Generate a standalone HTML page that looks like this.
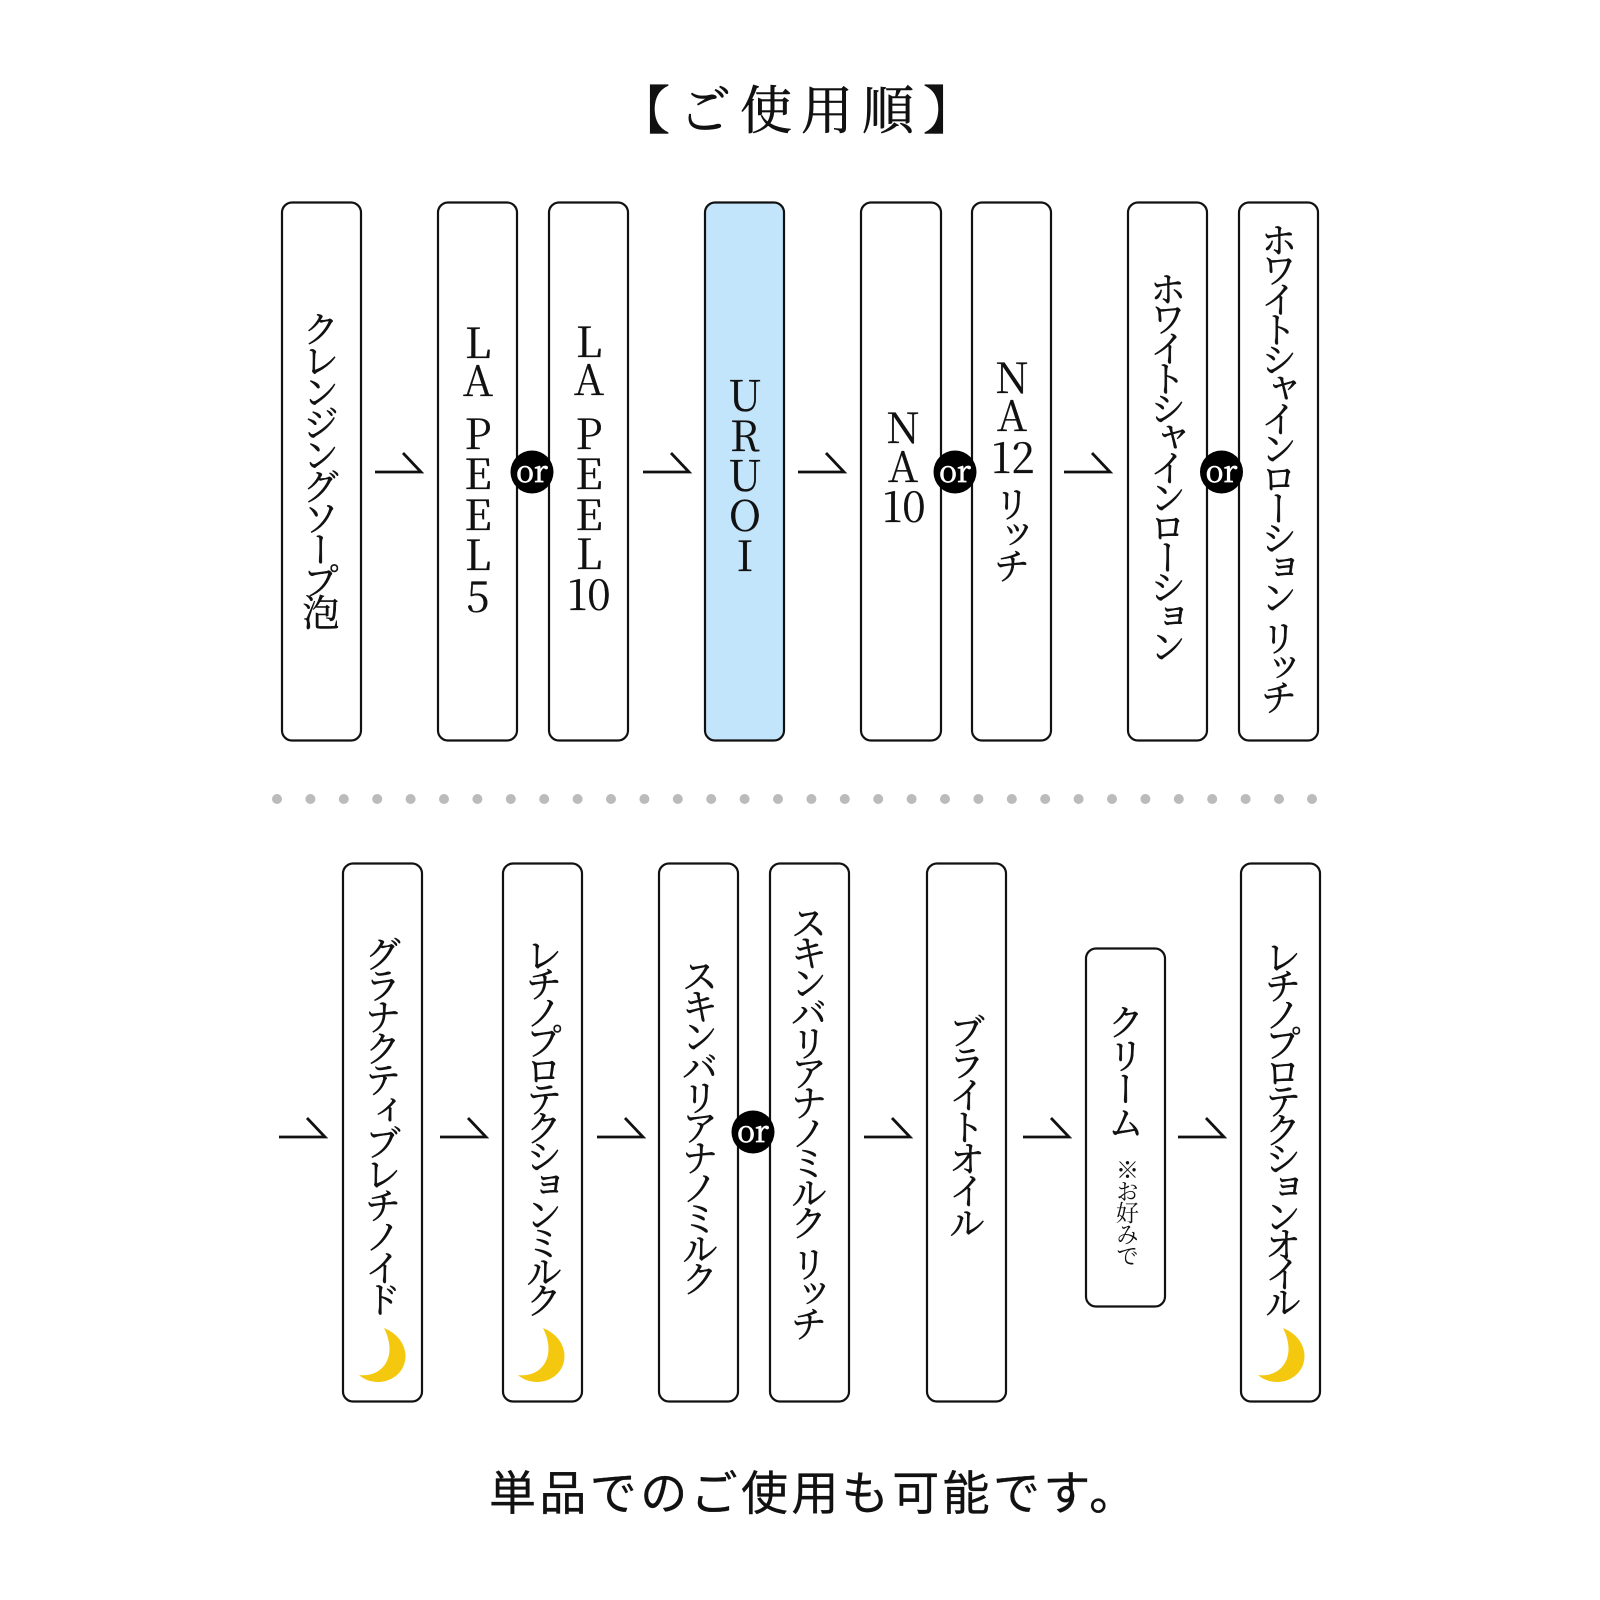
<!DOCTYPE html>
<html lang="ja"><head><meta charset="utf-8"><style>
html,body{margin:0;padding:0;background:#fff}
#p{position:relative;width:1600px;height:1600px;overflow:hidden;background:#fff;color:#111;font-family:"Liberation Serif","Noto Serif CJK JP","Noto Serif CJK SC",serif}
#p *{font-family:"Noto Serif CJK JP","Noto Serif CJK SC",serif}
svg{position:absolute;left:0;top:0}
.v{position:absolute;writing-mode:vertical-rl;width:50px;margin-left:-25px;line-height:50px;white-space:nowrap;font-size:37px;font-weight:400;-webkit-text-stroke:.45px #111}
.c{position:absolute;width:90px;margin-left:-45px;height:50px;line-height:50px;margin-top:-25px;text-align:center;font-size:42px;font-weight:400;-webkit-text-stroke:.3px #111}
.o{position:absolute;width:42px;margin-left:-21px;height:42px;margin-top:-21px;line-height:36px;text-align:center;font-size:30px;color:#fff;font-weight:400;-webkit-text-stroke:.7px #fff}
.g{margin-inline-start:11px}
</style></head><body><div id="p">
<svg width="1600" height="1600" viewBox="0 0 1600 1600" fill="none">
<g stroke="#111" stroke-width="2.200">
<rect x="282" y="202.500" width="79" height="538" rx="10" fill="#fff"/>
<rect x="438" y="202.500" width="79" height="538" rx="10" fill="#fff"/>
<rect x="549" y="202.500" width="79" height="538" rx="10" fill="#fff"/>
<rect x="705" y="202.500" width="79" height="538" rx="10" fill="#c3e5fb"/>
<rect x="861" y="202.500" width="80" height="538" rx="10" fill="#fff"/>
<rect x="972" y="202.500" width="79" height="538" rx="10" fill="#fff"/>
<rect x="1128" y="202.500" width="79" height="538" rx="10" fill="#fff"/>
<rect x="1239" y="202.500" width="79" height="538" rx="10" fill="#fff"/>
<rect x="343" y="863.500" width="79" height="538" rx="10" fill="#fff"/>
<rect x="503" y="863.500" width="79" height="538" rx="10" fill="#fff"/>
<rect x="659" y="863.500" width="79" height="538" rx="10" fill="#fff"/>
<rect x="770" y="863.500" width="79" height="538" rx="10" fill="#fff"/>
<rect x="927" y="863.500" width="79" height="538" rx="10" fill="#fff"/>
<rect x="1086" y="948.500" width="79" height="358" rx="10" fill="#fff"/>
<rect x="1241" y="863.500" width="79" height="538" rx="10" fill="#fff"/>
</g>
<g stroke="#111" stroke-width="2.800" stroke-linejoin="miter">
<path d="M375 472H421L403 453"/><path d="M643 472H689L671 453"/><path d="M798 472H844L826 453"/><path d="M1064 472H1110L1092 453"/>
<path d="M279 1137H325L307 1118"/><path d="M440 1137H486L468 1118"/><path d="M597 1137H643L625 1118"/><path d="M864 1137H910L892 1118"/><path d="M1023 1137H1069L1051 1118"/><path d="M1178 1137H1224L1206 1118"/>
</g>
<g fill="#000"><circle cx="532" cy="472" r="21.500"/><circle cx="955" cy="472" r="21.500"/><circle cx="1221.500" cy="472" r="21.500"/><circle cx="753" cy="1132" r="21.500"/></g>
<g fill="#bbb">
<circle cx="277" cy="799" r="5"/><circle cx="310.400" cy="799" r="5"/><circle cx="343.800" cy="799" r="5"/><circle cx="377.200" cy="799" r="5"/><circle cx="410.600" cy="799" r="5"/><circle cx="444" cy="799" r="5"/><circle cx="477.400" cy="799" r="5"/><circle cx="510.800" cy="799" r="5"/><circle cx="544.200" cy="799" r="5"/><circle cx="577.600" cy="799" r="5"/><circle cx="611" cy="799" r="5"/><circle cx="644.400" cy="799" r="5"/><circle cx="677.800" cy="799" r="5"/><circle cx="711.200" cy="799" r="5"/><circle cx="744.600" cy="799" r="5"/><circle cx="778" cy="799" r="5"/><circle cx="811.400" cy="799" r="5"/><circle cx="844.800" cy="799" r="5"/><circle cx="878.200" cy="799" r="5"/><circle cx="911.600" cy="799" r="5"/><circle cx="945" cy="799" r="5"/><circle cx="978.400" cy="799" r="5"/><circle cx="1011.800" cy="799" r="5"/><circle cx="1045.200" cy="799" r="5"/><circle cx="1078.600" cy="799" r="5"/><circle cx="1112" cy="799" r="5"/><circle cx="1145.400" cy="799" r="5"/><circle cx="1178.800" cy="799" r="5"/><circle cx="1212.200" cy="799" r="5"/><circle cx="1245.600" cy="799" r="5"/><circle cx="1279" cy="799" r="5"/><circle cx="1312" cy="799" r="5"/>
</g>
<g fill="#f4c80f">
<path d="M1283 1328C1298 1334 1304.500 1346 1304.500 1356C1304.500 1372 1291 1382 1277 1382C1270 1382 1263 1379.500 1258 1375C1280 1378 1298 1358 1283 1328Z"/>
<path transform="translate(-899 0)" d="M1283 1328C1298 1334 1304.500 1346 1304.500 1356C1304.500 1372 1291 1382 1277 1382C1270 1382 1263 1379.500 1258 1375C1280 1378 1298 1358 1283 1328Z"/>
<path transform="translate(-740 0)" d="M1283 1328C1298 1334 1304.500 1346 1304.500 1356C1304.500 1372 1291 1382 1277 1382C1270 1382 1263 1379.500 1258 1375C1280 1378 1298 1358 1283 1328Z"/>
</g>
</svg>

<div style="position:absolute;left:618px;top:71px;font-size:52px;line-height:72px;letter-spacing:9px;white-space:nowrap;font-weight:400;-webkit-text-stroke:.6px #111">【ご使用順】</div>

<div class="v" style="left:321px;top:310px;letter-spacing:-5.500px">クレンジングソープ泡</div>

<span class="c" style="left:478px;top:341px">L</span><span class="c" style="left:478px;top:379px">A</span><span class="c" style="left:478px;top:432px">P</span><span class="c" style="left:478px;top:472px">E</span><span class="c" style="left:478px;top:513px">E</span><span class="c" style="left:478px;top:553px">L</span><span class="c" style="left:478px;top:595px">5</span>
<span class="c" style="left:589px;top:340px">L</span><span class="c" style="left:589px;top:378px">A</span><span class="c" style="left:589px;top:432px">P</span><span class="c" style="left:589px;top:472px">E</span><span class="c" style="left:589px;top:513px">E</span><span class="c" style="left:589px;top:552px">L</span><span class="c" style="left:589px;top:593px">10</span>
<span class="c" style="left:745px;top:394px">U</span><span class="c" style="left:745px;top:434px">R</span><span class="c" style="left:745px;top:474px">U</span><span class="c" style="left:745px;top:514px">O</span><span class="c" style="left:745px;top:554px">I</span>
<span class="c" style="left:903px;top:426px">N</span><span class="c" style="left:903px;top:465px">A</span><span class="c" style="left:904px;top:505px">10</span>
<span class="c" style="left:1012px;top:376px">N</span><span class="c" style="left:1012px;top:414px">A</span><span class="c" style="left:1013px;top:456px">12</span>
<div class="v" style="left:1012px;top:485px;letter-spacing:-6px">リッチ</div>

<span class="o" style="left:532px;top:471.500px">or</span>
<span class="o" style="left:955px;top:471.500px">or</span>
<span class="o" style="left:1221.500px;top:471.500px">or</span>
<span class="o" style="left:753px;top:1131.500px">or</span>

<div class="v" style="left:1168px;top:270px;letter-spacing:-7.200px">ホワイトシャインローション</div>
<div class="v" style="left:1279px;top:221px;letter-spacing:-7.200px">ホワイトシャインローション<span class="g">リッチ</span></div>
<div class="v" style="left:383px;top:935px;letter-spacing:-5.600px">グラナクティブレチノイド</div>
<div class="v" style="left:544px;top:936px;letter-spacing:-8.200px">レチノプロテクションミルク</div>
<div class="v" style="left:700px;top:957px;letter-spacing:-6.700px">スキンバリアナノミルク</div>
<div class="v" style="left:809px;top:904px;letter-spacing:-7px">スキンバリアナノミルク<span class="g">リッチ</span></div>
<div class="v" style="left:967px;top:1012px;letter-spacing:-5px">ブライトオイル</div>
<div class="v" style="left:1126px;top:1003px;letter-spacing:-3.500px">クリーム</div>
<div class="v" style="left:1127px;top:1158px;font-size:23px;letter-spacing:-1.500px;-webkit-text-stroke:0">※お好みで</div>
<div class="v" style="left:1283px;top:938px;letter-spacing:-8.200px">レチノプロテクションオイル</div>

<div style="position:absolute;left:489px;top:1456px;font-size:47px;line-height:68px;letter-spacing:3.400px;white-space:nowrap;font-family:'Noto Sans CJK JP',sans-serif!important;font-weight:400;-webkit-text-stroke:.3px #111">単品でのご使用も可能です。</div>
</div></body></html>
